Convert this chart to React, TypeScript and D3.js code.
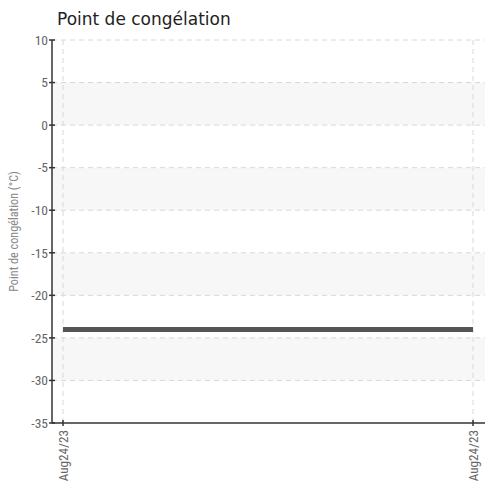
import React from "react";
import * as d3 from "d3";

const title = "Point de congélation";
const yTitle = "Point de congélation (°C)";
const dates = ["Aug24/23", "Aug24/23"];
const values = [-24, -24];
const yTicks = [10, 5, 0, -5, -10, -15, -20, -25, -30, -35];
const bands: [number, number][] = [[5, 0], [-5, -10], [-15, -20], [-25, -30]];

export default function App() {
  const W = 491, H = 486;
  const left = 52, right = 485, top = 40, bottom = 423;
  const y = d3.scaleLinear().domain([-35, 10]).range([bottom, top]);
  const x = d3.scaleLinear().domain([0, dates.length - 1]).range([63, 473]);
  const line = d3.line<number>().x((_, i) => x(i)).y((d) => y(d));
  const narrow = "'Liberation Sans Narrow', 'Roboto Condensed', Roboto, sans-serif";
  return (
    <svg width={W} height={H} style={{ position: "absolute", left: 0, top: 0 }}>
      <rect width={W} height={H} fill="#fff" />
      <text x={57} y={25} fontFamily="'DejaVu Sans', Verdana, sans-serif" fontSize={17} fill="#222">{title}</text>
      {bands.map(([a, b], i) => (
        <rect key={i} x={left} y={y(a)} width={right - left} height={y(b) - y(a)} fill="#f7f7f7" />
      ))}
      {yTicks.filter((t) => t !== -35).map((t) => (
        <line key={t} x1={left} x2={right} y1={y(t)} y2={y(t)} stroke="#d8d8d8" strokeDasharray="5,4" />
      ))}
      {dates.map((_, i) => (
        <line key={i} x1={x(i)} x2={x(i)} y1={top} y2={bottom} stroke="#d8d8d8" strokeDasharray="5,4" />
      ))}
      <path d={line(values) || ""} fill="none" stroke="#555" strokeWidth={5} />
      <line x1={left} x2={right} y1={bottom} y2={bottom} stroke="#666" strokeWidth={2} />
      <line x1={left} x2={left} y1={top} y2={bottom} stroke="#333" strokeWidth={1.5} />
      {yTicks.map((t) => (
        <g key={t}>
          <line x1={left - 3} x2={left + 3} y1={y(t)} y2={y(t)} stroke="#333" strokeWidth={1.5} />
          <text x={left - 4} y={y(t)} dy="0.35em" textAnchor="end" fontFamily={narrow} fontSize={13.5} fill="#666">{t}</text>
        </g>
      ))}
      {dates.map((d, i) => (
        <g key={i}>
          <line x1={x(i)} x2={x(i)} y1={bottom - 3} y2={bottom + 3} stroke="#333" strokeWidth={1.5} />
          <text transform={`translate(${x(i)},${bottom + 7}) rotate(-90)`} dy="0.35em" textAnchor="end" fontFamily={narrow} fontSize={13.2} fill="#666">{d}</text>
        </g>
      ))}
      <text transform={`translate(18,${(top + bottom) / 2}) rotate(-90)`} textAnchor="middle" fontFamily={narrow} fontSize={12.2} fill="#888">{yTitle}</text>
    </svg>
  );
}
